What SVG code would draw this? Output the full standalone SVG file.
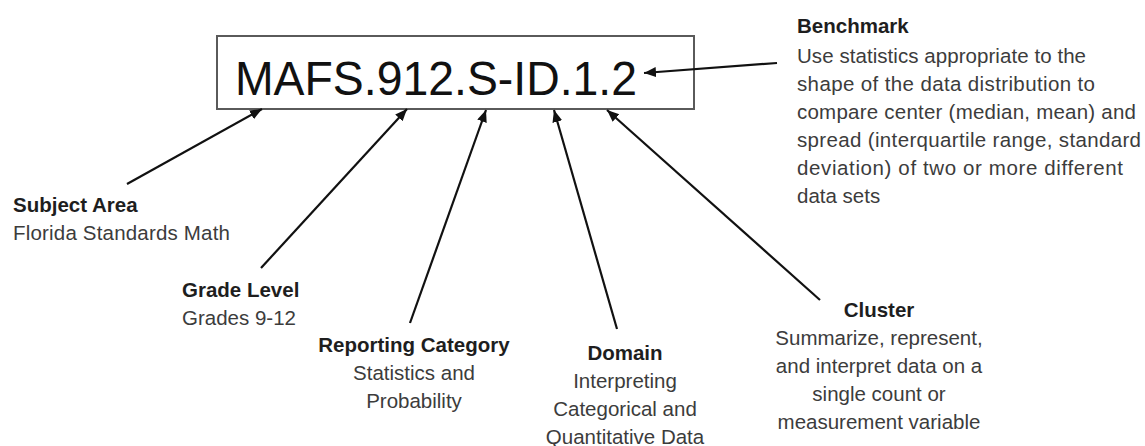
<svg xmlns="http://www.w3.org/2000/svg" width="1145" height="446" viewBox="0 0 1145 446">
  <style>
    .code { font-family: "Liberation Sans", Arial, sans-serif; font-size: 49px; fill: #111; }
    .t { font-family: "Liberation Sans", Arial, sans-serif; font-size: 20.5px; font-weight: bold; fill: #1e1e1e; }
    .b { font-family: "Liberation Sans", Arial, sans-serif; font-size: 20.5px; fill: #3c3c3c; }
    .c { text-anchor: middle; }
    .box { fill: #fff; stroke: #5a5a5a; stroke-width: 2; }
    .conn line { stroke: #111; stroke-width: 2.2; marker-end: url(#ah); }
  </style>
  <defs>
    <marker id="ah" markerUnits="userSpaceOnUse" markerWidth="14" markerHeight="12" refX="12" refY="5" orient="auto">
      <path d="M0,0 L12,5 L0,10 Z" fill="#111"/>
    </marker>
  </defs>
  <rect width="1145" height="446" fill="#fff"/>

  <g id="code-box">
    <rect class="box" x="217" y="36" width="477" height="73"/>
    <text class="code" x="235" y="95" textLength="402" lengthAdjust="spacingAndGlyphs">MAFS.912.S-ID.1.2</text>
  </g>

  <g class="conn" id="connectors">
    <line x1="127" y1="184" x2="262" y2="109"/>
    <line x1="261" y1="268" x2="407" y2="109"/>
    <line x1="410" y1="323" x2="486" y2="110"/>
    <line x1="617" y1="329" x2="554" y2="110"/>
    <line x1="820" y1="300" x2="607" y2="110"/>
    <line x1="777" y1="63" x2="644" y2="73"/>
  </g>

  <g id="benchmark">
    <text class="t" x="797" y="33">Benchmark</text>
    <text class="b" x="797" y="63" textLength="289">Use statistics appropriate to the</text>
    <text class="b" x="797" y="91" textLength="298">shape of the data distribution to</text>
    <text class="b" x="797" y="119" textLength="339">compare center (median, mean) and</text>
    <text class="b" x="797" y="147" textLength="344">spread (interquartile range, standard</text>
    <text class="b" x="797" y="175" textLength="326">deviation) of two or more different</text>
    <text class="b" x="797" y="203">data sets</text>
  </g>

  <g id="subject-area">
    <text class="t" x="13" y="212">Subject Area</text>
    <text class="b" x="13" y="240" textLength="217">Florida Standards Math</text>
  </g>

  <g id="grade-level">
    <text class="t" x="182" y="297">Grade Level</text>
    <text class="b" x="182" y="325">Grades 9-12</text>
  </g>

  <g id="reporting-category">
    <text class="t c" x="414" y="352">Reporting Category</text>
    <text class="b c" x="414" y="380">Statistics and</text>
    <text class="b c" x="414" y="408">Probability</text>
  </g>

  <g id="domain">
    <text class="t c" x="625" y="360">Domain</text>
    <text class="b c" x="625" y="388">Interpreting</text>
    <text class="b c" x="625" y="416">Categorical and</text>
    <text class="b c" x="625" y="444">Quantitative Data</text>
  </g>

  <g id="cluster">
    <text class="t c" x="879" y="317">Cluster</text>
    <text class="b c" x="879" y="345">Summarize, represent,</text>
    <text class="b c" x="879" y="373">and interpret data on a</text>
    <text class="b c" x="879" y="401">single count or</text>
    <text class="b c" x="879" y="429">measurement variable</text>
  </g>
</svg>
